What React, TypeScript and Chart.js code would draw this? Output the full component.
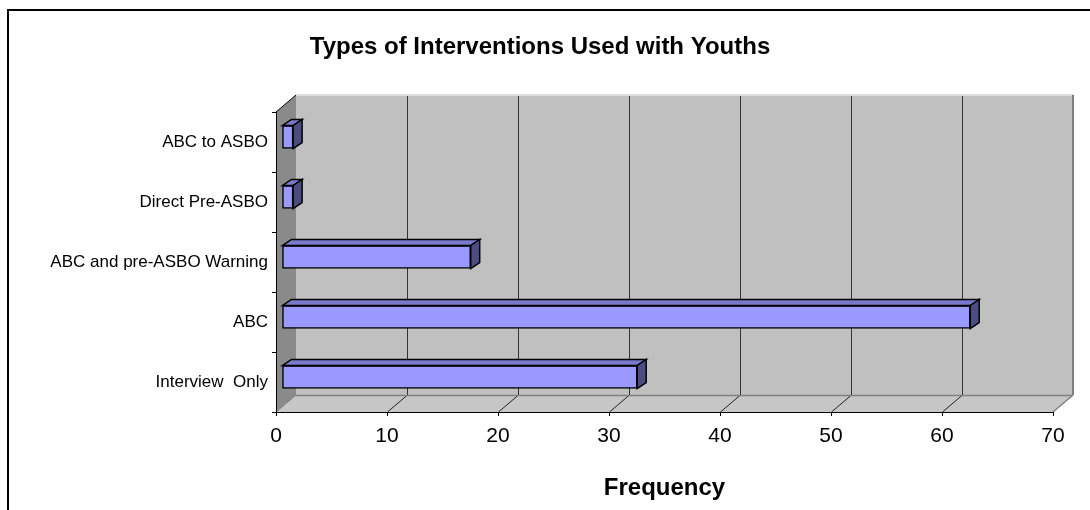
import { useEffect, useRef } from 'react';
import { Chart, registerables } from 'chart.js';

Chart.register(...registerables);

const categories = ['ABC to ASBO', 'Direct Pre-ASBO', 'ABC and pre-ASBO Warning', 'ABC', 'Interview  Only'];
const frequencies = [1, 1, 17, 62, 32];
const xMin = 0;
const xMax = 70;
const xStep = 10;
const chartTitle = 'Types of Interventions Used with Youths';
const axisTitle = 'Frequency';

const FONT = "'Liberation Sans', Arial, Helvetica, sans-serif";

// 3D depth of the plot box and of the bars
const DX = 20, DY = -17;
const BX = 6, BY = -5;
const FX = 9, FY = -6;

function poly(ctx: CanvasRenderingContext2D, pts: number[][], fill?: string, stroke?: string, lw = 1) {
  ctx.beginPath();
  ctx.moveTo(pts[0][0], pts[0][1]);
  for (let i = 1; i < pts.length; i++) ctx.lineTo(pts[i][0], pts[i][1]);
  ctx.closePath();
  if (fill) { ctx.fillStyle = fill; ctx.fill(); }
  if (stroke) { ctx.strokeStyle = stroke; ctx.lineWidth = lw; ctx.stroke(); }
}

function line(ctx: CanvasRenderingContext2D, x1: number, y1: number, x2: number, y2: number, color: string, lw = 1) {
  ctx.beginPath();
  ctx.moveTo(x1, y1);
  ctx.lineTo(x2, y2);
  ctx.strokeStyle = color;
  ctx.lineWidth = lw;
  ctx.stroke();
}

const box3d = {
  id: 'box3d',
  beforeDraw(chart: any) {
    const ctx: CanvasRenderingContext2D = chart.ctx;
    const { left: L, right: R, top: T, bottom: B } = chart.chartArea;
    ctx.save();
    // outer frame
    ctx.strokeStyle = '#000';
    ctx.lineWidth = 2;
    ctx.strokeRect(8, 10, 1200, 700);
    // back wall
    ctx.fillStyle = '#C0C0C0';
    ctx.fillRect(L + DX, T + DY, R - L, B - T);
    // side wall
    poly(ctx, [[L, T], [L + DX, T + DY], [L + DX, B + DY], [L, B]], '#8A8A8A');
    // floor
    poly(ctx, [[L, B], [L + DX, B + DY], [R + DX, B + DY], [R, B]], '#C6C6C6');
    // gridlines on back wall and floor
    const xs = chart.scales.x;
    xs.ticks.forEach((t: any) => {
      if (t.value <= xs.min || t.value >= xs.max) return;
      const px = Math.round(xs.getPixelForValue(t.value)) + 0.5;
      line(ctx, px + DX, T + DY, px + DX, B + DY, '#333', 1);
      line(ctx, px, B, px + DX, B + DY, '#222', 1);
    });
    // wall edges
    line(ctx, L + DX, T + DY, R + DX + 1, T + DY, '#DCDCDC', 2);
    line(ctx, R + DX, T + DY, R + DX, B + DY, '#7F7F7F', 2);
    line(ctx, L + DX, B + DY + 0.5, R + DX, B + DY + 0.5, '#808080', 1.5);
    line(ctx, R, B, R + DX, B + DY, '#808080', 1.5);
    line(ctx, L, T, L + DX, T + DY, '#000', 1);
    line(ctx, L, B, L + DX, B + DY, '#7A7A7A', 1);
    ctx.restore();
  },
  beforeDatasetsDraw(chart: any) {
    chart.ctx.save();
    chart.ctx.translate(BX, BY);
  },
  afterDatasetsDraw(chart: any) {
    const ctx: CanvasRenderingContext2D = chart.ctx;
    const meta = chart.getDatasetMeta(0);
    meta.data.forEach((bar: any) => {
      const { x, y, base, height } = bar.getProps(['x', 'y', 'base', 'height'], true);
      const top = y - height / 2;
      const bot = y + height / 2;
      poly(ctx, [[base, top], [x, top], [x + FX, top + FY], [base + FX, top + FY]], '#7A7ACC', '#000', 1.5);
      poly(ctx, [[x, top], [x + FX, top + FY], [x + FX, bot + FY], [x, bot]], '#4C4C80', '#000', 1.5);
    });
    ctx.restore();
  },
};

export default function App() {
  const ref = useRef<HTMLCanvasElement | null>(null);
  useEffect(() => {
    if (!ref.current) return;
    const chart = new Chart(ref.current, {
      type: 'bar',
      data: {
        labels: categories,
        datasets: [
          {
            data: frequencies,
            backgroundColor: '#9999FF',
            borderColor: '#000',
            borderWidth: 1.5,
            borderSkipped: false,
            barThickness: 23,
          },
        ],
      },
      options: {
        indexAxis: 'y',
        responsive: false,
        maintainAspectRatio: false,
        animation: false,
        layout: { padding: { left: 27, right: 37, top: 0, bottom: 0 } },
        plugins: {
          legend: { display: false },
          tooltip: { enabled: false },
          title: {
            display: true,
            text: chartTitle,
            color: '#000',
            font: { family: FONT, size: 24, weight: 'bold' },
            padding: { top: 32.6, bottom: 50.6 },
          },
        },
        scales: {
          x: {
            min: xMin,
            max: xMax,
            ticks: { stepSize: xStep, color: '#000', font: { family: FONT, size: 21 }, padding: 8, maxRotation: 0 },
            grid: { drawOnChartArea: false, drawTicks: true, tickLength: 4, color: '#000' },
            border: { display: true, color: '#000', width: 1 },
            title: {
              display: true,
              text: axisTitle,
              color: '#000',
              font: { family: FONT, size: 24, weight: 'bold' },
              padding: { top: 0, bottom: 7.6 },
            },
            afterFit(s: any) { s.height = 98; },
          },
          y: {
            ticks: { color: '#000', font: { family: FONT, size: 17 }, padding: 4 },
            grid: { offset: true, drawOnChartArea: false, drawTicks: true, tickLength: 4, color: '#000' },
            border: { display: true, color: '#000', width: 1 },
            afterFit(s: any) { s.width = 249; },
          },
        },
      } as any,
      plugins: [box3d],
    });
    return () => chart.destroy();
  }, []);
  return (
    <div style={{ position: 'absolute', left: 0, top: 0, width: 1090, height: 510, background: '#fff' }}>
      <canvas ref={ref} width={1090} height={510} style={{ display: 'block' }} />
    </div>
  );
}
